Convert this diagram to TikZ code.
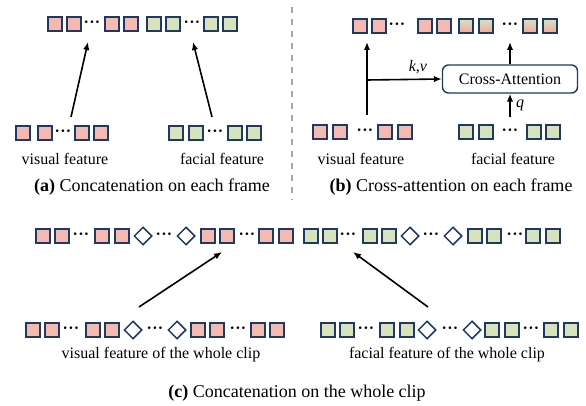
\documentclass[tikz,border=0pt]{standalone}
\usepackage{fontspec}
\setmainfont{Liberation Serif}
\usetikzlibrary{arrows.meta,shapes.geometric}
\definecolor{navy}{HTML}{1F3864}
\definecolor{pinkc}{HTML}{F4B9B1}
\definecolor{greenc}{HTML}{D6E3BC}
\definecolor{sepgray}{HTML}{A6A6A6}
\tikzset{
  sq/.style={draw=navy,line width=1.7pt,minimum size=14.3pt,inner sep=0pt},
  pk/.style={sq,fill=pinkc},
  gr/.style={sq,fill=greenc},
  mx/.style={sq,top color=greenc,bottom color=pinkc!90!red},
  dm/.style={diamond,draw=navy,line width=1.5pt,minimum width=18pt,minimum height=18pt,inner sep=0pt,fill=white},
  lab/.style={font=\fontsize{16}{18}\selectfont},
  captext/.style={font=\fontsize{18}{21}\selectfont},
  dt/.style={lab,inner sep=0pt,execute at begin node={\textbf{·\kern.3pt·\kern.3pt·}}},
  arr/.style={-{Latex[length=8pt,width=6.5pt]},line width=1.6pt}
}
\newcommand{\featrow}[3]{\foreach \x/\t [count=\i] in {#3} \node[\t] (#1\i) at (\x,#2) {};}

\begin{document}
\begin{tikzpicture}[x=1pt,y=-1pt]
\useasboundingbox (0,0) rectangle (586,406);
% (a) concatenation on each frame
\featrow{at}{24}{55/pk,74/pk,92/dt,112/pk,131/pk,154/gr,173/gr,192/dt,211/gr,230/gr}
\featrow{av}{133}{23/pk,45/pk,63/dt,82/pk,101/pk}
\featrow{af}{133}{176/gr,196/gr,215/dt,235/gr,254/gr}
\node[lab] (avl) at (65,159) {visual feature};
\node[lab] (afl) at (222,159) {facial feature};
\coordinate (avs) at (71,117);
\coordinate (ate1) at (88,42);
\coordinate (afs) at (212,117);
\coordinate (ate2) at (193,42);
\draw[arr] (avs) -- (ate1);
\draw[arr] (afs) -- (ate2);
\node[captext] (capa) at (152,187) {\textbf{(a)} Concatenation on each frame};
% separator
\coordinate (sept) at (292,7);
\coordinate (sepb) at (292,200);
\draw[sepgray,line width=1.2pt,dash pattern=on 6pt off 6pt] (sept) -- (sepb);
% (b) cross-attention on each frame
\featrow{bt}{26}{360/pk,379/pk,397/dt,425/pk,444/pk,466/mx,486/mx,510/dt,530/mx,550/mx}
\featrow{bv}{132}{320/pk,340/pk,365/dt,385/pk,405/pk}
\featrow{bf}{132}{466/gr,486/gr,510/dt,534/gr,553/gr}
\node[lab] (bvl) at (361,159) {visual feature};
\node[lab] (bfl) at (513,159) {facial feature};
\node[lab,draw=navy,line width=1.4pt,rounded corners=6pt,minimum width=135pt,minimum height=28pt] (ca) at (510,79) {Cross-Attention};
\coordinate (bvs) at (367,115);
\coordinate (bte1) at (367,42);
\coordinate (bj) at (367,80);
\coordinate (bfs) at (510,117);
\coordinate (bte2) at (510,42);
\draw[arr] (bvs) -- (bte1);
\draw[arr] (bj) -- (ca.west) node[lab,pos=.68,above=1pt] (kv) {\textit{k},\textit{v}};
\draw[arr] (bfs) -- (ca.south) node[lab,midway,right=2pt] (q) {\textit{q}};
\draw[arr] (ca.north) -- (bte2);
\node[captext] (capb) at (451,187) {\textbf{(b)} Cross-attention on each frame};
% (c) concatenation on the whole clip
\featrow{ct}{236}{43/pk,62/pk,81/dt,102/pk,122/pk,143/dm,164/dt,186/dm,208/pk,227/pk,247/dt,266/pk,286/pk,311/gr,330/gr,348/dt,370/gr,389/gr,410/dm,431/dt,453/dm,475/gr,494/gr,515/dt,533/gr,553/gr}
\featrow{cv}{330}{33/pk,52/pk,71/dt,93/pk,112/pk,133/dm,155/dt,177/dm,198/pk,217/pk,238/dt,258/pk,277/pk}
\featrow{cf}{330}{328/gr,347/gr,366/dt,387/gr,407/gr,427/dm,450/dt,472/dm,492/gr,512/gr,531/dt,551/gr,571/gr}
\node[lab] (cvl) at (161,355) {visual feature of the whole clip};
\node[lab] (cfl) at (447,355) {facial feature of the whole clip};
\coordinate (cvs) at (139,307);
\coordinate (cte1) at (222,252);
\coordinate (cfs) at (428,307);
\coordinate (cte2) at (353,252);
\draw[arr] (cvs) -- (cte1);
\draw[arr] (cfs) -- (cte2);
\node[captext] (capc) at (297,393) {\textbf{(c)} Concatenation on the whole clip};
\end{tikzpicture}
\end{document}
